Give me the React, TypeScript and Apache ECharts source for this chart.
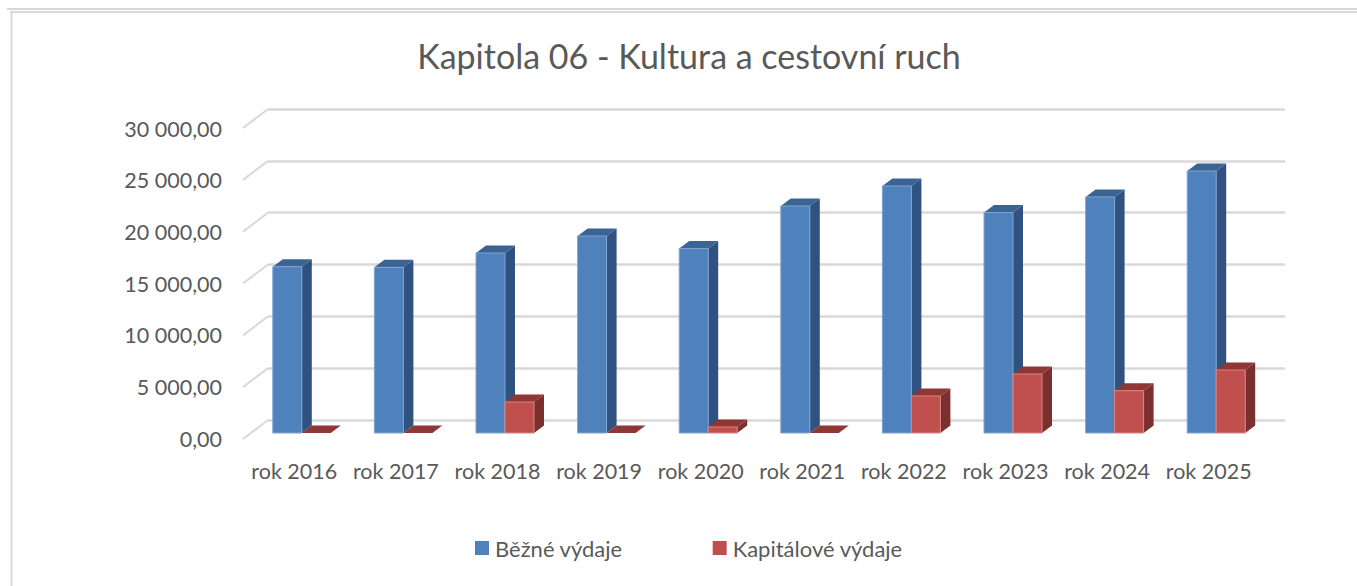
import React, { useEffect, useRef } from "react";
import * as echarts from "echarts";

const categories = ["rok 2016", "rok 2017", "rok 2018", "rok 2019", "rok 2020", "rok 2021", "rok 2022", "rok 2023", "rok 2024", "rok 2025"];
const bezne = [16040, 15980, 17360, 19000, 17800, 21900, 23830, 21270, 22770, 25270];
const kapitalove = [0, 0, 2990, 0, 580, 0, 3570, 5690, 4080, 6080];
const gridTicks = [0, 5000, 10000, 15000, 20000, 25000, 30000];

const FONT = "Lato, Carlito, 'Open Sans', sans-serif";
const TEXT = "#595959";
const GRIDC = "#d9d9d9";
const BAR_W = 29;
const DX = 10;
const DY = 7.5;

function fmt(v: number) {
  const s = String(v).replace(/\B(?=(\d{3})+$)/g, " ");
  return s + ",00";
}

function barSeries(name: string, values: number[], offset: number, front: string, edge: string, top: string, side: string) {
  return {
    type: "custom",
    name,
    xAxisIndex: 2,
    yAxisIndex: 2,
    coordinateSystem: "cartesian2d",
    itemStyle: { color: front },
    data: values.map((v, i) => [i, v]),
    clip: false,
    renderItem: (_: any, api: any) => {
      const p = api.coord([api.value(0), api.value(1)]);
      const b = api.coord([api.value(0), 0]);
      const x = p[0] + offset;
      const y = p[1];
      const h = b[1] - p[1];
      return {
        type: "group",
        children: [
          { type: "polygon", shape: { points: [[x + BAR_W, y], [x + BAR_W + DX, y - DY], [x + BAR_W + DX, y + h - DY], [x + BAR_W, y + h]] }, style: { fill: side } },
          { type: "polygon", shape: { points: [[x, y], [x + DX, y - DY], [x + BAR_W + DX, y - DY], [x + BAR_W, y]] }, style: { fill: top } },
          { type: "rect", shape: { x, y, width: BAR_W, height: h }, style: { fill: front, stroke: h > 0 ? edge : "none", lineWidth: 1 } },
        ],
      };
    },
  };
}

export default function App() {
  const ref = useRef<HTMLDivElement>(null);
  useEffect(() => {
    const chart = echarts.init(ref.current!, undefined, { renderer: "svg" });
    const hiddenCat = { type: "category", data: categories, show: false };
    chart.setOption({
      animation: false,
      backgroundColor: "#ffffff",
      textStyle: { fontFamily: FONT },
      title: {
        text: "Kapitola 06 - Kultura a cestovní ruch",
        left: 684,
        top: 33,
        textAlign: "center",
        textStyle: { fontFamily: FONT, fontSize: 34, fontWeight: "normal", color: TEXT },
      },
      legend: {
        left: 470,
        top: 532,
        icon: "rect",
        itemWidth: 14,
        itemHeight: 14,
        itemGap: 90,
        selectedMode: false,
        data: ["Běžné výdaje", "Kapitálové výdaje"],
        textStyle: { fontFamily: FONT, fontSize: 22, color: TEXT, padding: [0, 0, 0, 1] },
      },
      grid: [
        { left: 243.5, top: 128.5, width: 1016, height: 310 },
        { left: 268, top: 109, width: 1017, height: 311 },
        { left: 251, top: 122, width: 1016, height: 311 },
      ],
      xAxis: [
        {
          gridIndex: 0,
          type: "category",
          data: categories,
          axisLine: { show: false },
          axisTick: { show: false },
          axisLabel: { margin: 21, interval: 0, fontFamily: FONT, fontSize: 21.5, color: TEXT },
        },
        { ...hiddenCat, gridIndex: 1 },
        { ...hiddenCat, gridIndex: 2 },
      ],
      yAxis: [
        {
          gridIndex: 0,
          type: "value",
          min: 0,
          max: 30000,
          interval: 5000,
          axisLine: { show: false },
          axisTick: { show: false },
          splitLine: { show: false },
          axisLabel: { margin: 21.5, fontFamily: FONT, fontSize: 21.5, color: TEXT, formatter: (v: number) => fmt(v) },
        },
        {
          gridIndex: 1,
          type: "value",
          min: 0,
          max: 30000,
          interval: 5000,
          axisLine: { show: false },
          axisTick: { show: false },
          axisLabel: { show: false },
          splitLine: { show: true, lineStyle: { color: GRIDC, width: 2.5 } },
        },
        { gridIndex: 2, type: "value", min: 0, max: 30000, interval: 5000, show: false, splitLine: { show: false } },
      ],
      series: [
        {
          type: "custom",
          xAxisIndex: 1,
          yAxisIndex: 1,
          silent: true,
          data: gridTicks.map((v) => [0, v]),
          clip: false,
          renderItem: (params: any, api: any) => {
            const y = api.coord([0, api.value(1)])[1];
            const x = params.coordSys.x;
            return {
              type: "line",
              shape: { x1: x, y1: y, x2: x - 25, y2: y + 19 },
              style: { stroke: GRIDC, lineWidth: 2 },
            };
          },
        },
        barSeries("Běžné výdaje", bezne, -29, "#4f81bd", "#7fa4d2", "#3b6495", "#2f5280"),
        barSeries("Kapitálové výdaje", kapitalove, 0, "#c0504d", "#dc8583", "#8f3735", "#7b2f2e"),
      ],
      graphic: [
        { type: "line", shape: { x1: 7, y1: 9, x2: 1357, y2: 9 }, style: { stroke: "#d6d6d6", lineWidth: 2 } },
        { type: "line", shape: { x1: 10, y1: 12, x2: 1357, y2: 12 }, style: { stroke: "#d9d9d9", lineWidth: 2 } },
        { type: "line", shape: { x1: 11.5, y1: 11, x2: 11.5, y2: 586 }, style: { stroke: "#d9d9d9", lineWidth: 2 } },
      ],
    });
    return () => chart.dispose();
  }, []);
  return <div ref={ref} style={{ position: "absolute", left: 0, top: 0, width: 1357, height: 586 }} />;
}
